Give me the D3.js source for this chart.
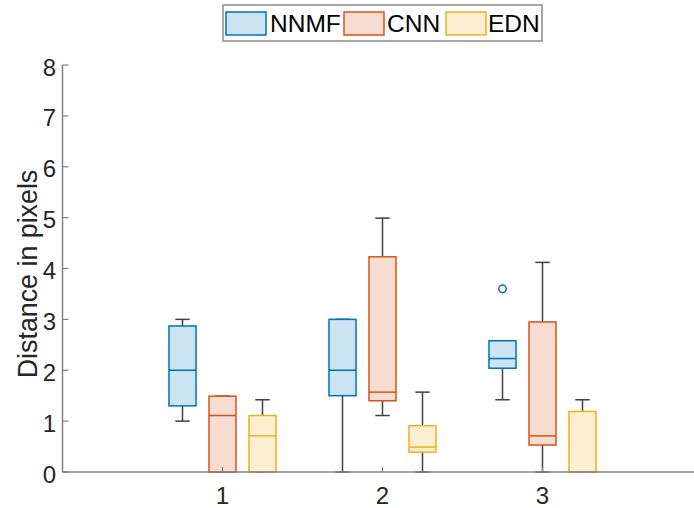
<!DOCTYPE html>
<html>
<head>
<meta charset="utf-8">
<script src="https://cdn.jsdelivr.net/npm/d3@7"></script>
<style>
  html, body { margin: 0; padding: 0; background: #fff; }
  svg { display: block; font-family: "Liberation Sans", Arial, Helvetica, sans-serif; }
</style>
</head>
<body>
<svg id="chart" width="694" height="508"></svg>
<script>
// ---- Data ----
const groups = ["1", "2", "3"];
const seriesNames = ["NNMF", "CNN", "EDN"];
const yTicks = [0, 1, 2, 3, 4, 5, 6, 7, 8];
// stats per group: [lower whisker, Q1, median, Q3, upper whisker]
const nnmfStats = [[1.0, 1.30, 2.0, 2.87, 3.0], [0, 1.5, 2.0, 3.0, 3.0], [1.42, 2.04, 2.23, 2.58, 2.58]];
const cnnStats  = [[0, 0, 1.11, 1.49, 1.49], [1.11, 1.40, 1.57, 4.23, 4.99], [0, 0.53, 0.71, 2.95, 4.12]];
const ednStats  = [[0, 0, 0.71, 1.11, 1.42], [0, 0.39, 0.49, 0.91, 1.57], [0, 0, 0, 1.19, 1.42]];
const nnmfOutliers = [[], [], [3.6]];
const cnnOutliers  = [[], [], []];
const ednOutliers  = [[], [], []];
const edgeColors = ["#0072BD", "#D95319", "#EDB120"];
const fillColors = ["#CCE3F2", "#F7DDD1", "#FBEFD2"];

const allStats = [nnmfStats, cnnStats, ednStats];
const allOutliers = [nnmfOutliers, cnnOutliers, ednOutliers];

// ---- Layout ----
const svg = d3.select("#chart");
const x = d3.scaleLinear().domain([0, 4]).range([62.5, 702.5]);
const y = d3.scaleLinear().domain([0, 8]).range([472, 65]);
const offsets = [-0.25, 0, 0.25];
const boxW = 0.169;   // in x data units
const capW = 0.09;
const textColor = "#262626";
const axisColor = "#808080";

const plot = svg.append("g");

allStats.forEach((stats, si) => {
  const g = plot.append("g");
  stats.forEach((s, gi) => {
    const cx = (gi + 1) + offsets[si];
    const [lo, q1, med, q3, hi] = s;
    const wc = "#404040";
    if (hi > q3) {
      g.append("line").attr("x1", x(cx)).attr("x2", x(cx)).attr("y1", y(q3)).attr("y2", y(hi))
        .attr("stroke", wc).attr("stroke-width", 1.5);
    }
    if (lo < q1) {
      g.append("line").attr("x1", x(cx)).attr("x2", x(cx)).attr("y1", y(q1)).attr("y2", y(lo))
        .attr("stroke", wc).attr("stroke-width", 1.5);
    }
    [lo, hi].forEach(v => {
      g.append("line").attr("x1", x(cx - capW / 2)).attr("x2", x(cx + capW / 2))
        .attr("y1", y(v)).attr("y2", y(v)).attr("stroke", wc).attr("stroke-width", 1.5);
    });
    g.append("rect")
      .attr("x", x(cx - boxW / 2)).attr("width", x(cx + boxW / 2) - x(cx - boxW / 2))
      .attr("y", y(q3)).attr("height", y(q1) - y(q3))
      .attr("fill", fillColors[si]).attr("stroke", edgeColors[si]).attr("stroke-width", 1.5);
    g.append("line").attr("x1", x(cx - boxW / 2)).attr("x2", x(cx + boxW / 2))
      .attr("y1", y(med)).attr("y2", y(med)).attr("stroke", edgeColors[si]).attr("stroke-width", 1.5);
    allOutliers[si][gi].forEach(v => {
      g.append("circle").attr("cx", x(cx)).attr("cy", y(v)).attr("r", 3.8)
        .attr("fill", "none").attr("stroke", edgeColors[si]).attr("stroke-width", 1.5);
    });
  });
});

// ---- Axes ----
const yAxis = svg.append("g");
yAxis.append("line").attr("x1", x(0)).attr("x2", x(0)).attr("y1", y(0)).attr("y2", y(8))
  .attr("stroke", axisColor).attr("stroke-width", 1.5);
yTicks.forEach(t => {
  yAxis.append("line").attr("x1", x(0)).attr("x2", x(0) + 6).attr("y1", y(t)).attr("y2", y(t))
    .attr("stroke", axisColor).attr("stroke-width", 1.2);
  yAxis.append("text").attr("x", 56).attr("y", y(t) + 10.6)
    .attr("text-anchor", "end").attr("font-size", 24).attr("fill", textColor).text(t);
});

const xAxis = svg.append("g");
xAxis.append("line").attr("x1", x(0)).attr("x2", 694).attr("y1", y(0)).attr("y2", y(0))
  .attr("stroke", axisColor).attr("stroke-width", 1.5);
groups.forEach((gname, i) => {
  const xv = x(i + 1);
  xAxis.append("line").attr("x1", xv).attr("x2", xv).attr("y1", y(0)).attr("y2", y(0) - 5)
    .attr("stroke", axisColor).attr("stroke-width", 1.2);
  xAxis.append("text").attr("x", xv).attr("y", 504)
    .attr("text-anchor", "middle").attr("font-size", 24).attr("fill", textColor).text(gname);
});

svg.append("text")
  .attr("transform", "translate(37,274) rotate(-90)")
  .attr("text-anchor", "middle").attr("font-size", 26.8).attr("fill", textColor)
  .text("Distance in pixels");

// ---- Legend ----
const leg = svg.append("g");
leg.append("rect").attr("x", 223).attr("y", 5).attr("width", 319).attr("height", 36)
  .attr("fill", "#fff").attr("stroke", "#8a8a8a").attr("stroke-width", 1.5);
const swX = [226, 344, 446];
const txX = [270, 387, 488];
seriesNames.forEach((name, i) => {
  leg.append("rect").attr("x", swX[i]).attr("y", 12).attr("width", 40).attr("height", 23)
    .attr("fill", fillColors[i]).attr("stroke", edgeColors[i]).attr("stroke-width", 1.5);
  leg.append("text").attr("x", txX[i]).attr("y", 32).attr("font-size", 24.5)
    .attr("fill", "#000").text(name);
});
</script>
</body>
</html>
